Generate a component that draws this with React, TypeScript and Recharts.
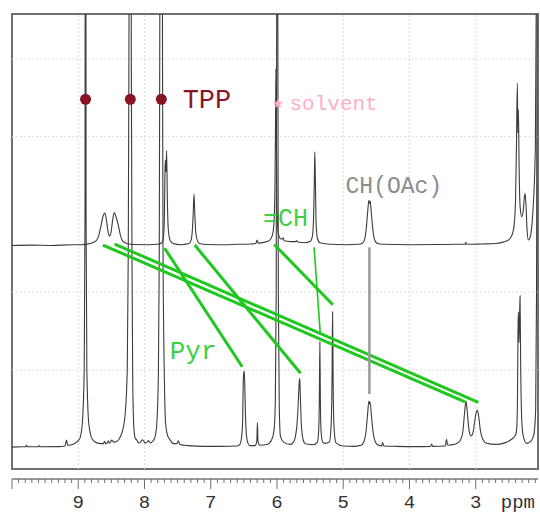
import React from 'react';
import {
  ComposedChart,
  Line,
  XAxis,
  YAxis,
  ReferenceLine,
  ReferenceArea,
  ReferenceDot,
} from 'recharts';

// ---------- DATA ----------
// Upper trace: [ppm, intensity above its own baseline]
const upperSpectrum: [number, number][] = [
  [10.0, 0.0], [9.7, 0.005], [9.4, 0.0], [9.1, 0.01], [8.95, 0.01], [8.82, 0.025],
  [8.76, 0.045], [8.72, 0.07], [8.69, 0.13], [8.66, 0.24], [8.625, 0.38], [8.598, 0.418],
  [8.575, 0.33], [8.548, 0.17], [8.527, 0.122], [8.505, 0.17], [8.48, 0.33], [8.456, 0.425],
  [8.43, 0.37], [8.39, 0.24], [8.36, 0.12], [8.33, 0.06], [8.27, 0.025], [8.15, 0.012],
  [7.95, 0.01], [7.8, 0.015], [7.74, 0.035], [7.715, 0.1], [7.7, 0.35], [7.69, 1.0],
  [7.683, 1.1], [7.676, 0.95], [7.666, 1.22], [7.655, 0.6], [7.64, 0.2], [7.61, 0.06],
  [7.57, 0.025], [7.45, 0.01], [7.33, 0.025], [7.3, 0.06], [7.28, 0.17], [7.265, 0.4],
  [7.253, 0.663], [7.24, 0.4], [7.225, 0.16], [7.2, 0.06], [7.17, 0.025], [7.05, 0.012],
  [6.8, 0.01], [6.6, 0.015], [6.4, 0.02], [6.32, 0.025], [6.3, 0.07], [6.285, 0.03],
  [6.2, 0.04], [6.12, 0.06], [6.07, 0.13], [6.045, 0.3], [6.03, 0.8], [6.022, 1.6],
  [6.016, 2.27], [6.01, 1.5], [6.0, 0.5], [5.985, 0.2], [5.96, 0.1], [5.93, 0.08],
  [5.91, 0.1], [5.89, 0.06], [5.8, 0.05], [5.72, 0.05], [5.705, 0.065], [5.69, 0.045],
  [5.58, 0.035], [5.5, 0.05], [5.465, 0.12], [5.448, 0.35], [5.437, 0.8], [5.429, 1.207],
  [5.42, 0.8], [5.41, 0.3], [5.39, 0.09], [5.35, 0.035], [5.2, 0.015], [4.95, 0.01],
  [4.78, 0.015], [4.71, 0.03], [4.68, 0.07], [4.655, 0.2], [4.632, 0.42], [4.614, 0.577],
  [4.604, 0.54], [4.595, 0.575], [4.576, 0.42], [4.552, 0.2], [4.525, 0.07], [4.49, 0.03],
  [4.4, 0.015], [4.0, 0.01], [3.6, 0.012], [3.3, 0.015], [3.16, 0.015], [3.15, 0.04],
  [3.14, 0.015], [2.9, 0.02], [2.7, 0.025], [2.6, 0.04], [2.53, 0.06], [2.48, 0.09],
  [2.43, 0.2], [2.4, 0.55], [2.385, 1.3], [2.372, 2.088], [2.364, 1.45], [2.356, 1.75],
  [2.345, 1.0], [2.33, 0.5], [2.305, 0.37], [2.283, 0.45], [2.266, 0.62], [2.255, 0.67],
  [2.243, 0.55], [2.225, 0.2], [2.205, 0.07], [2.175, 0.12], [2.14, 0.4], [2.1, 1.25],
  [2.086, 3.2], [2.075, 6.5], [2.06, 9.0],
];
const upperOffset = 2.6;

// Lower trace: [ppm, intensity]
const lowerSpectrum: [number, number][] = [
  [10.0, 0.005], [9.85, 0.01], [9.79, 0.01], [9.78, 0.03], [9.77, 0.01], [9.6, 0.012],
  [9.59, 0.025], [9.58, 0.01], [9.3, 0.012], [9.2, 0.02], [9.177, 0.097], [9.16, 0.03],
  [9.06, 0.05], [8.98, 0.11], [8.94, 0.3], [8.91, 1.0], [8.898, 3.0], [8.89, 14],
  [8.882, 3.0], [8.87, 1.0], [8.84, 0.3], [8.79, 0.11], [8.72, 0.06], [8.65, 0.05],
  [8.62, 0.05], [8.603, 0.08], [8.585, 0.05], [8.56, 0.06], [8.547, 0.085], [8.525, 0.055],
  [8.497, 0.095], [8.46, 0.07], [8.42, 0.08], [8.39, 0.1], [8.371, 0.13], [8.33, 0.22],
  [8.29, 0.45], [8.26, 1.0], [8.245, 2.5], [8.235, 5.0], [8.217, 14], [8.199, 5.0],
  [8.189, 2.5], [8.178, 0.9], [8.16, 0.25], [8.14, 0.12], [8.119, 0.1], [8.09, 0.06],
  [8.06, 0.07], [8.035, 0.1], [8.018, 0.09], [7.99, 0.06], [7.96, 0.07], [7.942, 0.09],
  [7.91, 0.06], [7.885, 0.075], [7.867, 0.09], [7.84, 0.14], [7.817, 0.27], [7.79, 0.96],
  [7.777, 2.5], [7.77, 5.0], [7.749, 16], [7.728, 5.0], [7.72, 2.5], [7.7, 0.9],
  [7.681, 0.31], [7.65, 0.15], [7.616, 0.1], [7.56, 0.05], [7.51, 0.05], [7.489, 0.087],
  [7.465, 0.04], [7.35, 0.025], [7.1, 0.015], [6.85, 0.015], [6.6, 0.02], [6.56, 0.04],
  [6.54, 0.1], [6.52, 0.3], [6.507, 0.9], [6.5, 0.97], [6.494, 0.985], [6.486, 0.8],
  [6.475, 0.4], [6.46, 0.15], [6.44, 0.06], [6.41, 0.025], [6.33, 0.025], [6.305, 0.08],
  [6.295, 0.32], [6.287, 0.08], [6.26, 0.03], [6.15, 0.04], [6.08, 0.1], [6.045, 0.22],
  [6.025, 0.6], [6.012, 2.0], [6.005, 5.5], [5.996, 14], [5.987, 5.5], [5.98, 2.0],
  [5.965, 0.5], [5.947, 0.14], [5.9, 0.07], [5.8, 0.04], [5.75, 0.07], [5.725, 0.13],
  [5.7, 0.28], [5.68, 0.55], [5.666, 0.82], [5.656, 0.89], [5.646, 0.62], [5.632, 0.3],
  [5.605, 0.1], [5.575, 0.05], [5.554, 0.045], [5.45, 0.035], [5.39, 0.07], [5.372, 0.2],
  [5.361, 0.6], [5.353, 1.362], [5.345, 0.6], [5.334, 0.2], [5.31, 0.07], [5.277, 0.054],
  [5.21, 0.07], [5.185, 0.25], [5.17, 0.8], [5.161, 1.748], [5.152, 0.8], [5.138, 0.25],
  [5.11, 0.06], [5.0, 0.02], [4.85, 0.015], [4.73, 0.03], [4.69, 0.07], [4.66, 0.18],
  [4.635, 0.4], [4.613, 0.598], [4.604, 0.56], [4.596, 0.59], [4.575, 0.42], [4.55, 0.2],
  [4.52, 0.08], [4.48, 0.035], [4.42, 0.02], [4.405, 0.065], [4.39, 0.02], [4.2, 0.015],
  [3.9, 0.012], [3.68, 0.015], [3.665, 0.045], [3.65, 0.015], [3.46, 0.02], [3.44, 0.105],
  [3.425, 0.03], [3.3, 0.045], [3.235, 0.09], [3.195, 0.2], [3.168, 0.45], [3.147, 0.598],
  [3.13, 0.48], [3.105, 0.25], [3.08, 0.16], [3.061, 0.15], [3.035, 0.22], [3.0, 0.42],
  [2.976, 0.483], [2.955, 0.4], [2.93, 0.22], [2.89, 0.1], [2.834, 0.055], [2.7, 0.04],
  [2.56, 0.06], [2.47, 0.1], [2.4, 0.16], [2.381, 0.25], [2.37, 0.6], [2.362, 1.5],
  [2.356, 1.748], [2.347, 1.35], [2.338, 1.7], [2.331, 1.954], [2.322, 1.1], [2.305, 0.35],
  [2.281, 0.14], [2.23, 0.054], [2.16, 0.09], [2.12, 0.18], [2.095, 0.5], [2.082, 2.0],
  [2.072, 7.0], [2.06, 10],
];

// Ruler (ppm axis)
const majorTicks = [10, 9, 8, 7, 6, 5, 4, 3];
const majorTickLabels = ['', '9', '8', '7', '6', '5', '4', '3'];
const axisUnit = 'ppm';
const xDomain: [number, number] = [2.06, 10];
const yDomain: [number, number] = [-0.405, 5.579];
const frameBottom = -0.277;

// grid
const gridPpm = [9, 8, 5, 4, 3];
const gridLevels = [1, 2, 4, 5];

// TPP markers
const tppPeaks = [8.89, 8.214, 7.746];
const tppMarkerLevel = 4.482;

// assignment connector lines: [ppmFrom, vFrom, ppmTo, vTo]
const pyrLinks: [number, number, number, number][] = [
  [8.628, 2.606, 3.162, 0.589],
  [8.451, 2.619, 2.961, 0.582],
  [7.696, 2.564, 6.525, 1.04],
  [7.242, 2.606, 5.645, 0.955],
  [6.041, 2.613, 5.157, 1.838],
];
const thinLink: [number, number, number, number] = [5.44, 2.577, 5.346, 1.461];
const ohacLink: [number, number, number, number] = [4.605, 2.577, 4.605, 0.689];

// text annotations
const textLabels = [
  { text: 'TPP', ppm: 7.424, v: 4.366, color: '#8b1424', size: 27 },
  { text: 'solvent', ppm: 5.811, v: 4.344, color: '#ffadc6', size: 21 },
  { text: 'CH(OAc)', ppm: 4.965, v: 3.279, color: '#8c8c8c', size: 23 },
  { text: '=CH', ppm: 6.212, v: 2.855, color: '#3fcf3f', size: 25 },
  { text: 'Pyr', ppm: 7.619, v: 1.139, color: '#3fcf3f', size: 26 },
];
const solventStar = { ppm: 5.984, v: 4.43 };

// ---------- helpers ----------
const minorTicks: number[] = [];
for (let i = 0; i < majorTicks.length; i++) {
  for (let k = 0; k < 10; k++) {
    const t = Math.round((majorTicks[i] - k * 0.1) * 10) / 10;
    if (t > xDomain[0]) minorTicks.push(t);
  }
}
const rulerTicks = minorTicks;

const MONO = '"Liberation Mono", "DejaVu Sans Mono", monospace';

const RulerTick = (props: any) => {
  const { x, y, payload } = props;
  const v = payload.value as number;
  const idx = majorTicks.findIndex((m) => Math.abs(m - v) < 1e-6);
  const isMajor = idx >= 0;
  return (
    <g>
      <line x1={x} x2={x} y1={y} y2={y + (isMajor ? 10 : 4)} stroke="#707070" strokeWidth={1} />
      {isMajor && majorTickLabels[idx] ? (
        <text x={x} y={y + 29.3} textAnchor="middle" fontFamily={MONO} fontSize={19} fill="#333">
          {majorTickLabels[idx]}
        </text>
      ) : null}
    </g>
  );
};

export default function App() {
  const upper = upperSpectrum.map(([ppm, v]) => ({ ppm, v: v + upperOffset }));
  const lower = lowerSpectrum.map(([ppm, v]) => ({ ppm, v }));

  return (
    <div
      style={{
        position: 'fixed',
        left: 0,
        top: 0,
        width: 540,
        height: 514,
        overflow: 'hidden',
        background: '#fff',
      }}
    >
      <ComposedChart width={540} height={514} margin={{ top: 14, right: 2, bottom: 3, left: 12 }}>
        <XAxis
          type="number"
          dataKey="ppm"
          domain={xDomain}
          reversed
          allowDataOverflow
          ticks={rulerTicks}
          interval={0}
          tick={RulerTick}
          tickLine={false}
          tickSize={0}
          tickMargin={0}
          height={32}
          axisLine={{ stroke: '#777', strokeWidth: 1.5 }}
          label={{
            value: axisUnit,
            position: 'insideBottomRight',
            offset: 3,
            fontFamily: MONO,
            fontSize: 19,
            fill: '#333',
          }}
        />
        <YAxis type="number" domain={yDomain} allowDataOverflow hide />

        {gridPpm.map((p) => (
          <ReferenceLine
            key={'gx' + p}
            segment={[{ x: p, y: frameBottom }, { x: p, y: yDomain[1] }]}
            stroke="#dcdcdc"
            strokeDasharray="2 2"
            strokeWidth={1}
          />
        ))}
        {gridLevels.map((l) => (
          <ReferenceLine
            key={'gy' + l}
            segment={[{ x: xDomain[1], y: l }, { x: xDomain[0], y: l }]}
            stroke="#dcdcdc"
            strokeDasharray="2 2"
            strokeWidth={1}
          />
        ))}

        <ReferenceArea
          x1={xDomain[1]}
          x2={xDomain[0]}
          y1={frameBottom}
          y2={yDomain[1]}
          fill="none"
          fillOpacity={0}
          stroke="#707070"
          strokeWidth={2}
          ifOverflow="visible"
        />

        <Line
          data={upper}
          dataKey="v"
          type="monotone"
          stroke="#3c3c3c"
          strokeWidth={1.1}
          dot={false}
          activeDot={false}
          isAnimationActive={false}
        />
        <Line
          data={lower}
          dataKey="v"
          type="monotone"
          stroke="#3c3c3c"
          strokeWidth={1.1}
          dot={false}
          activeDot={false}
          isAnimationActive={false}
        />

        {pyrLinks.map((l, i) => (
          <ReferenceLine
            key={'pl' + i}
            segment={[{ x: l[0], y: l[1] }, { x: l[2], y: l[3] }]}
            stroke="#1ec81e"
            strokeWidth={3}
            ifOverflow="visible"
          />
        ))}
        <ReferenceLine
          segment={[{ x: thinLink[0], y: thinLink[1] }, { x: thinLink[2], y: thinLink[3] }]}
          stroke="#1ec81e"
          strokeWidth={1.6}
          ifOverflow="visible"
        />
        <ReferenceLine
          segment={[{ x: ohacLink[0], y: ohacLink[1] }, { x: ohacLink[2], y: ohacLink[3] }]}
          stroke="#9a9a9a"
          strokeWidth={2.5}
          ifOverflow="visible"
        />

        {tppPeaks.map((p) => (
          <ReferenceDot
            key={'tpp' + p}
            x={p}
            y={tppMarkerLevel}
            r={5.5}
            fill="#8b1424"
            stroke="none"
            ifOverflow="visible"
          />
        ))}

        <ReferenceDot
          x={solventStar.ppm}
          y={solventStar.v}
          r={0}
          ifOverflow="visible"
          shape={(p: any) => (
            <text
              x={p.cx}
              y={p.cy}
              textAnchor="middle"
              dominantBaseline="central"
              fontFamily='"DejaVu Sans", sans-serif'
              fontSize={14}
              fill="#ffadc6"
            >
              ★
            </text>
          )}
        />

        {textLabels.map((t) => (
          <ReferenceDot
            key={t.text}
            x={t.ppm}
            y={t.v}
            r={0}
            ifOverflow="visible"
            shape={(p: any) => (
              <text x={p.cx} y={p.cy} fontFamily={MONO} fontSize={t.size} fill={t.color}>
                {t.text}
              </text>
            )}
          />
        ))}
      </ComposedChart>
    </div>
  );
}
